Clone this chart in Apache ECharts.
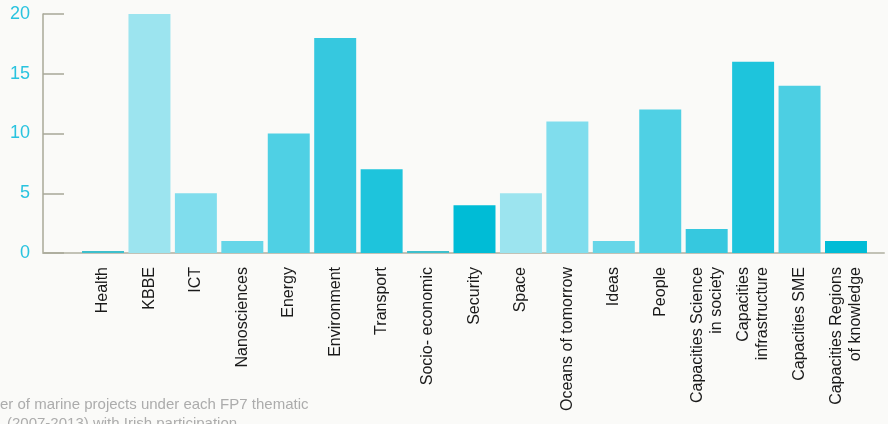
<!DOCTYPE html>
<html>
<head>
<meta charset="utf-8">
<script src="https://cdn.jsdelivr.net/npm/echarts@6/dist/echarts.min.js"></script>
<style>
html,body{margin:0;padding:0;background:#fafaf8;}
#chart{width:888px;height:424px;}
</style>
</head>
<body>
<div id="chart"></div>
<script>
const categories = ["Health","KBBE","ICT","Nanosciences","Energy","Environment","Transport","Socio- economic","Security","Space","Oceans of tomorrow","Ideas","People","Capacities Science\nin society","Capacities\ninfrastructure","Capacities SME","Capacities Regions\nof knowledge"];
const values = [0,20,5,1,10,18,7,0,4,5,11,1,12,2,16,14,1];
const barColors = ["#3dbfcc","#9ce4ef","#80dded","#66d6e8","#4fd0e4","#36c8df","#1ec4dc","#3dbfcc","#00bcd6","#9ce4ef","#80dded","#66d6e8","#4fd0e4","#36c8df","#1ec4dc","#4ccfe3","#00bcd6"];
const yTicks = {min:0,max:20,interval:5};
const captionLines = ["er of marine projects under each FP7 thematic","(2007-2013) with Irish participation"];

const chart = echarts.init(document.getElementById('chart'));
const font = "'Liberation Sans', Arial, sans-serif";
chart.setOption({
  backgroundColor:'#fafaf8',
  animation:false,
  grid:[
    {left:43,right:4,top:14,bottom:171},
    {left:79.8,right:18.8,top:14,bottom:171}
  ],
  xAxis:[
    {gridIndex:0,type:'value',min:0,max:1,
     axisLine:{show:true,lineStyle:{color:'#c2c2b6',width:2}},
     axisTick:{show:false},axisLabel:{show:false},splitLine:{show:false}},
    {gridIndex:1,type:'category',data:categories,
     axisLine:{show:false},axisTick:{show:false},
     axisLabel:{rotate:90,interval:0,margin:14,fontSize:16,lineHeight:19,color:'#1a1a1a',fontFamily:font}}
  ],
  yAxis:[
    {gridIndex:0,type:'value',min:yTicks.min,max:yTicks.max,interval:yTicks.interval,
     axisLine:{show:true,lineStyle:{color:'#a8a898',width:1.5}},
     axisTick:{show:true,inside:true,length:21,lineStyle:{color:'#a8a898',width:1.5}},
     axisLabel:{margin:13,fontSize:18,color:'#29c3df',fontFamily:font},
     splitLine:{show:false}},
    {gridIndex:1,type:'value',min:yTicks.min,max:yTicks.max,interval:yTicks.interval,show:false}
  ],
  series:[{
    type:'bar',xAxisIndex:1,yAxisIndex:1,z:5,
    barCategoryGap:'9.6%',barMinHeight:2,
    data:values.map((v,i)=>({value:v,itemStyle:{color:barColors[i]}}))
  }],
  graphic:[
    {type:'text',left:0,top:397,style:{text:captionLines[0],fontSize:15,fill:'#acacac',fontFamily:font}},
    {type:'text',left:7,top:416,style:{text:captionLines[1],fontSize:15,fill:'#acacac',fontFamily:font}}
  ]
});
</script>
</body>
</html>
